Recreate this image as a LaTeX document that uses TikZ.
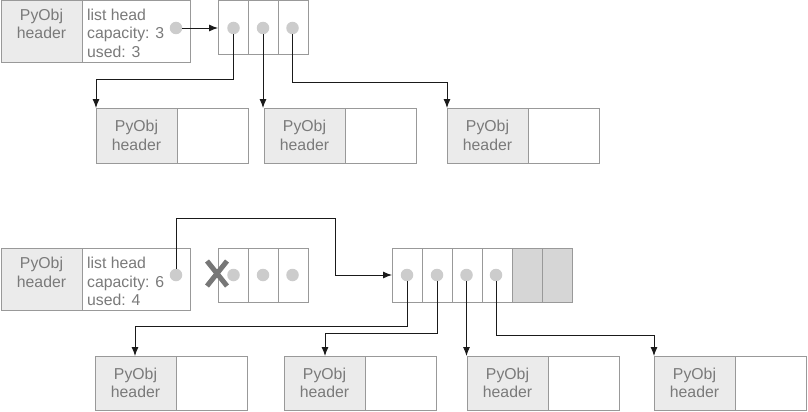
\documentclass[tikz,border=0pt]{standalone}
\usepackage{fontspec}
\setmainfont{Liberation Sans}
\usetikzlibrary{arrows.meta}
\definecolor{bordergray}{HTML}{999999}
\definecolor{hdrgray}{HTML}{EBEBEB}
\definecolor{sparegray}{HTML}{D6D6D6}
\definecolor{txtgray}{HTML}{7A7A7A}
\definecolor{dotgray}{HTML}{CCCCCC}
\definecolor{linecol}{HTML}{1A1A1A}
\definecolor{crossgray}{HTML}{777777}
\begin{document}
\begin{tikzpicture}[x=1pt,y=-1pt,
  lbl/.style={font=\fontsize{15.8}{18.5}\selectfont,text=txtgray},
  box/.style={draw=bordergray,line width=1pt,inner sep=0pt,outer sep=0pt,anchor=north west,
    minimum width=#1},
  hdr/.style={box=81,fill=hdrgray,lbl,align=center},
  objbody/.style={box=71,fill=white},
  structbody/.style={box=108,fill=white,minimum height=62},
  cell/.style={box=30,fill=white,minimum height=54},
  sparecell/.style={cell,fill=sparegray},
  dot/.style={circle,fill=dotgray,minimum size=12.5pt,inner sep=0pt},
  txt/.style={lbl,anchor=base west,inner sep=0pt},
  ctxt/.style={lbl,anchor=base,inner sep=0pt},
  conn/.style={draw=linecol,line width=0.9pt,-{Latex[length=9pt,width=7pt]}},
  cross/.style={draw=crossgray,line width=5pt}
]
\useasboundingbox (0,0) rectangle (808,412);

% ---------- top: list with capacity 3 ----------
\node[hdr,minimum height=62] (sh1) at (1,1) {};
\node[ctxt] (sh1a) at (41.5,21) {PyObj};
\node[ctxt] (sh1b) at (41.5,39) {header};
\node[structbody] (sb1) at (82,1) {};
\node[txt] (sb1a) at (87,20.5) {list head};
\node[txt] (sb1b) at (87,39) {capacity: 3};
\node[txt] (sb1c) at (87,57.5) {used: 3};
\node[dot] (sd1) at (176,28) {};

\node[cell] (ac1) at (218,1) {};
\node[cell] (ac2) at (248,1) {};
\node[cell] (ac3) at (278,1) {};
\node[dot] (td1) at (233.5,28) {};
\node[dot] (td2) at (263,28) {};
\node[dot] (td3) at (292.5,28) {};

\node[hdr,minimum height=55] (ob1) at (96,108) {PyObj\\header};
\node[objbody,minimum height=55] (ob1b) at (177,108) {};
\node[hdr,minimum height=55] (ob2) at (264,108) {PyObj\\header};
\node[objbody,minimum height=55] (ob2b) at (345,108) {};
\node[hdr,minimum height=55] (ob3) at (447,108) {PyObj\\header};
\node[objbody,minimum height=55] (ob3b) at (528,108) {};

\draw[conn] (sd1.east) -- (sd1.east -| ac1.west);
\draw[conn] (td1.south) -- (td1 |- 0,79) -| (ob1.north west);
\draw[conn] (td2.south) -- (td2.south |- ob2.north);
\draw[conn] (td3.south) -- (td3 |- 0,82) -| (ob3.north west);

% ---------- bottom: list with capacity 6 ----------
\node[hdr,minimum height=62] (sh2) at (1,248) {};
\node[ctxt] (sh2a) at (41.5,268.5) {PyObj};
\node[ctxt] (sh2b) at (41.5,287) {header};
\node[structbody] (sb2) at (82,248) {};
\node[txt] (sb2a) at (87,268.5) {list head};
\node[txt] (sb2b) at (87,287) {capacity: 6};
\node[txt] (sb2c) at (87,305.5) {used: 4};
\node[dot] (sd2) at (176,275) {};

\node[cell] (oc1) at (218,248) {};
\node[cell] (oc2) at (248,248) {};
\node[cell] (oc3) at (278,248) {};
\node[dot] (od1) at (233.5,275) {};
\node[dot] (od2) at (263,275) {};
\node[dot] (od3) at (292.5,275) {};
\draw[cross] (207,261) -- (227,286);
\draw[cross] (227,261) -- (207,286);

\node[cell] (nc1) at (392,248) {};
\node[cell] (nc2) at (422,248) {};
\node[cell] (nc3) at (452,248) {};
\node[cell] (nc4) at (482,248) {};
\node[sparecell] (nc5) at (512,248) {};
\node[sparecell] (nc6) at (542,248) {};
\node[dot] (nd1) at (407,275) {};
\node[dot] (nd2) at (437,275) {};
\node[dot] (nd3) at (466.5,275) {};
\node[dot] (nd4) at (496,275) {};

\node[hdr,minimum height=54] (bx1) at (95,356) {PyObj\\header};
\node[objbody,minimum height=54] (bx1b) at (176,356) {};
\node[hdr,minimum height=54] (bx2) at (284,356) {PyObj\\header};
\node[objbody,minimum height=54] (bx2b) at (365,356) {};
\node[hdr,minimum height=54] (bx3) at (467,356) {PyObj\\header};
\node[objbody,minimum height=54] (bx3b) at (548,356) {};
\node[hdr,minimum height=54] (bx4) at (654,356) {PyObj\\header};
\node[objbody,minimum height=54] (bx4b) at (735,356) {};

\coordinate (bend) at (335,218);
\draw[conn] (sd2.north) |- (bend) |- (nc1.west);
\draw[conn] (nd1.south) -- (nd1 |- 0,326) -| ([xshift=40pt]bx1.north west);
\draw[conn] (nd2.south) -- (nd2 |- 0,333) -| ([xshift=41pt]bx2.north west);
\draw[conn] (nd3.south) -- (nd3.south |- bx3.north west);
\draw[conn] (nd4.south) -- (nd4 |- 0,335) -| (bx4.north west);
\end{tikzpicture}
\end{document}
